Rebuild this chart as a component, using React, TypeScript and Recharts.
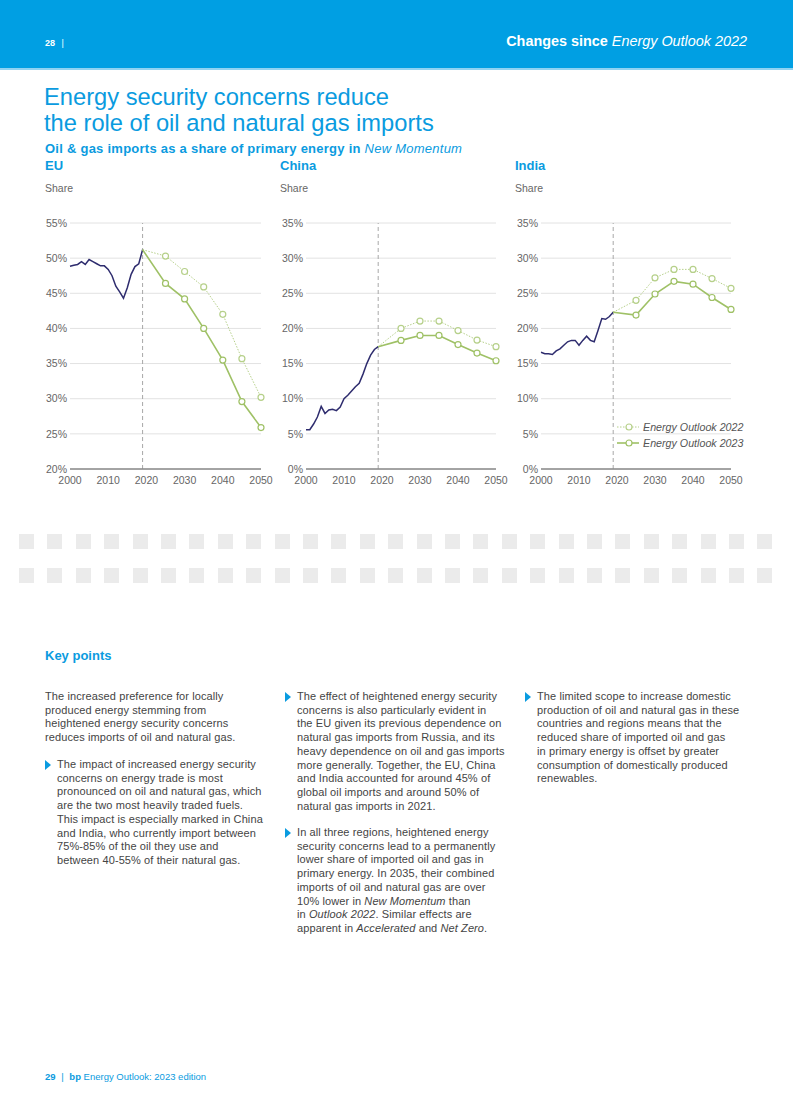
import React from 'react';
import { LineChart, Line, XAxis, YAxis, CartesianGrid, ReferenceLine } from 'recharts';

// ---------- data ----------
const histYears = [2000, 2001, 2002, 2003, 2004, 2005, 2006, 2007, 2008, 2009, 2010, 2011, 2012, 2013, 2014, 2015, 2016, 2017, 2018, 2019];
const projYears = [2019, 2025, 2030, 2035, 2040, 2045, 2050];

const euHist = [48.85, 49.0, 49.1, 49.5, 49.1, 49.8, 49.5, 49.2, 48.9, 48.9, 48.4, 47.5, 46.0, 45.2, 44.3, 45.8, 47.7, 48.8, 49.2, 51.2];
const euEO22 = [51.2, 50.3, 48.1, 45.9, 42.0, 35.7, 30.2];
const euEO23 = [51.2, 46.4, 44.2, 40.0, 35.5, 29.6, 25.9];

const chinaHist = [5.6, 5.6, 6.4, 7.4, 8.9, 7.9, 8.4, 8.5, 8.3, 8.8, 10.0, 10.5, 11.1, 11.7, 12.2, 13.5, 15.0, 16.2, 17.0, 17.4];
const chinaEO22 = [17.4, 20.0, 21.05, 21.05, 19.7, 18.35, 17.4];
const chinaEO23 = [17.4, 18.3, 19.0, 19.0, 17.7, 16.5, 15.4];

const indiaHist = [16.6, 16.4, 16.4, 16.3, 16.8, 17.1, 17.6, 18.1, 18.3, 18.3, 17.6, 18.3, 18.9, 18.3, 18.1, 19.7, 21.4, 21.3, 21.7, 22.3];
const indiaEO22 = [22.3, 24.0, 27.2, 28.4, 28.4, 27.1, 25.7];
const indiaEO23 = [22.3, 21.9, 24.9, 26.7, 26.3, 24.4, 22.7];

const xTicks = [2000, 2010, 2020, 2030, 2040, 2050];
const euYTicks = [20, 25, 30, 35, 40, 45, 50, 55];
const asiaYTicks = [0, 5, 10, 15, 20, 25, 30, 35];
const legendLabels = ['Energy Outlook 2022', 'Energy Outlook 2023'];

type Row = { year: number; hist?: number | null; eo22?: number | null; eo23?: number | null };

function buildData(hist: number[], eo22: number[], eo23: number[]): Row[] {
  const rows: Row[] = histYears.map((y, i) => ({ year: y, hist: hist[i], eo22: null, eo23: null }));
  projYears.forEach((y, i) => {
    const existing = rows.find((r) => r.year === y);
    if (existing) {
      existing.eo22 = eo22[i];
      existing.eo23 = eo23[i];
    } else {
      rows.push({ year: y, hist: null, eo22: eo22[i], eo23: eo23[i] });
    }
  });
  return rows;
}

const euData = buildData(euHist, euEO22, euEO23);
const chinaData = buildData(chinaHist, chinaEO22, chinaEO23);
const indiaData = buildData(indiaHist, indiaEO22, indiaEO23);

// ---------- styles ----------
const BLUE = '#0a9be0';
const NAVY = '#2e2c6e';
const GREEN = '#9fc166';
const GREEN_LIGHT = '#b6d08a';
const FONT = '"Liberation Sans", Arial, Helvetica, sans-serif';

const makeDot = (color: string) => (props: any) => {
  const { cx, cy, payload, index } = props;
  if (cx == null || cy == null || !payload || payload.year === 2019) return <g key={`d${index}`} />;
  return <circle key={`d${index}`} cx={cx} cy={cy} r={3} fill="#fff" stroke={color} strokeWidth={1.2} />;
};

type ChartProps = {
  data: Row[];
  yTicks: number[];
  left: number;
  yWidth: number;
  right: number;
};

function RegionChart({ data, yTicks, left, yWidth, right }: ChartProps) {
  return (
    <div style={{ position: 'absolute', left, top: 200 }}>
      <LineChart width={250} height={300} data={data} margin={{ top: 23, right, bottom: 6, left: 0 }}>
        <CartesianGrid vertical={false} stroke="#e2e2e2" strokeWidth={1} />
        <XAxis
          dataKey="year"
          type="number"
          domain={[2000, 2050]}
          ticks={xTicks}
          tickLine={false}
          axisLine={{ stroke: '#8a8a8a', strokeWidth: 1.5 }}
          tick={{ fontSize: 10.5, fill: '#666', fontFamily: FONT }}
          height={25}
          interval={0}
        />
        <YAxis
          type="number"
          domain={[yTicks[0], yTicks[yTicks.length - 1]]}
          ticks={yTicks}
          tickLine={false}
          axisLine={false}
          tickSize={0}
          tickMargin={3}
          width={yWidth}
          interval={0}
          tickFormatter={(v: number) => `${v}%`}
          tick={{ fontSize: 10.5, fill: '#666', fontFamily: FONT }}
        />
        <ReferenceLine x={2019} stroke="#a8a8a8" strokeDasharray="4 3" strokeWidth={1} />
        <Line type="linear" dataKey="hist" stroke={NAVY} strokeWidth={1.5} dot={false} isAnimationActive={false} />
        <Line
          type="linear"
          dataKey="eo22"
          stroke={GREEN_LIGHT}
          strokeWidth={1}
          strokeDasharray="1.5 1.5"
          dot={makeDot(GREEN_LIGHT)}
          activeDot={false}
          isAnimationActive={false}
        />
        <Line
          type="linear"
          dataKey="eo23"
          stroke={GREEN}
          strokeWidth={1.6}
          dot={makeDot(GREEN)}
          activeDot={false}
          isAnimationActive={false}
        />
      </LineChart>
    </div>
  );
}

const abs = (left: number, top: number, extra: React.CSSProperties = {}): React.CSSProperties => ({
  position: 'absolute',
  left,
  top,
  whiteSpace: 'nowrap',
  ...extra,
});

function Bullet({ left, top }: { left: number; top: number }) {
  return (
    <svg style={{ position: 'absolute', left, top }} width={8} height={12}>
      <polygon points="1,1 7,6 1,11" fill={BLUE} />
    </svg>
  );
}

function TextBlock({ left, top, lines }: { left: number; top: number; lines: React.ReactNode[] }) {
  return (
    <div style={abs(left, top, { fontSize: 11, lineHeight: '13.7px', color: '#444', letterSpacing: 0.1 })}>
      {lines.map((l, i) => (
        <div key={i}>{l}</div>
      ))}
    </div>
  );
}

export default function App() {
  return (
    <div style={{ position: 'absolute', left: 0, top: 0, width: 793, height: 1118, background: '#fff', fontFamily: FONT, overflow: 'hidden' }}>
      {/* header band */}
      <div style={{ position: 'absolute', left: 0, top: 0, width: 793, height: 68, background: '#009fe3' }} />
      <div style={{ position: 'absolute', left: 0, top: 68, width: 793, height: 2, background: '#8fd3f2' }} />
      <div style={abs(45, 37, { color: '#fff', fontSize: 9, fontWeight: 700, lineHeight: '12px' })}>
        28 <span style={{ fontWeight: 400, marginLeft: 4 }}>|</span>
      </div>
      <div style={{ position: 'absolute', right: 46, top: 32, color: '#fff', fontSize: 14.4, lineHeight: '18px', whiteSpace: 'nowrap' }}>
        <span style={{ fontWeight: 700 }}>Changes since </span>
        <span style={{ fontStyle: 'italic' }}>Energy Outlook 2022</span>
      </div>

      {/* title */}
      <div style={abs(44, 84, { color: BLUE, fontSize: 23.7, lineHeight: '26px' })}>
        <div>Energy security concerns reduce</div>
        <div>the role of oil and natural gas imports</div>
      </div>
      <div style={abs(45, 141, { color: BLUE, fontSize: 13, fontWeight: 700, lineHeight: '16px', letterSpacing: 0.25 })}>
        Oil &amp; gas imports as a share of primary energy in <span style={{ fontStyle: 'italic', fontWeight: 400 }}>New Momentum</span>
      </div>

      {/* panel titles */}
      {[
        ['EU', 45],
        ['China', 280],
        ['India', 515],
      ].map(([t, x]) => (
        <React.Fragment key={t as string}>
          <div style={abs(x as number, 158, { color: BLUE, fontSize: 13, fontWeight: 700, lineHeight: '16px' })}>{t}</div>
          <div style={abs(x as number, 182, { color: '#666', fontSize: 10.5, lineHeight: '12px' })}>Share</div>
        </React.Fragment>
      ))}

      <RegionChart data={euData} yTicks={euYTicks} left={30} yWidth={40} right={19} />
      <RegionChart data={chinaData} yTicks={asiaYTicks} left={270} yWidth={36} right={24} />
      <RegionChart data={indiaData} yTicks={asiaYTicks} left={505} yWidth={36} right={24} />

      {/* legend */}
      {legendLabels.map((lab, i) => (
        <div key={lab} style={abs(616, 420 + i * 16, { height: 14, display: 'flex', alignItems: 'center' })}>
          <svg width={25} height={14}>
            <line x1={1} y1={7} x2={23} y2={7} stroke={i === 0 ? GREEN_LIGHT : GREEN} strokeWidth={i === 0 ? 1 : 1.6} strokeDasharray={i === 0 ? '1.5 1.5' : undefined} />
            <circle cx={13} cy={7} r={3} fill="#fff" stroke={i === 0 ? GREEN_LIGHT : GREEN} strokeWidth={1.2} />
          </svg>
          <span style={{ fontSize: 10.7, fontStyle: 'italic', color: '#555', marginLeft: 2 }}>{lab}</span>
        </div>
      ))}

      {/* placeholder squares */}
      {[534, 568].map((y) =>
        Array.from({ length: 27 }).map((_, i) => (
          <div key={`${y}-${i}`} style={{ position: 'absolute', left: 19 + i * 28.4, top: y, width: 15, height: 15, background: '#ebebeb' }} />
        ))
      )}

      {/* key points */}
      <div style={abs(45, 648, { color: BLUE, fontSize: 13, fontWeight: 700, lineHeight: '16px' })}>Key points</div>

      <TextBlock
        left={45}
        top={690}
        lines={[
          'The increased preference for locally',
          'produced energy stemming from',
          'heightened energy security concerns',
          'reduces imports of oil and natural gas.',
        ]}
      />
      <Bullet left={44} top={759} />
      <TextBlock
        left={57}
        top={758}
        lines={[
          'The impact of increased energy security',
          'concerns on energy trade is most',
          'pronounced on oil and natural gas, which',
          'are the two most heavily traded fuels.',
          'This impact is especially marked in China',
          'and India, who currently import between',
          '75%-85% of the oil they use and',
          'between 40-55% of their natural gas.',
        ]}
      />

      <Bullet left={284} top={691} />
      <TextBlock
        left={297}
        top={690}
        lines={[
          'The effect of heightened energy security',
          'concerns is also particularly evident in',
          'the EU given its previous dependence on',
          'natural gas imports from Russia, and its',
          'heavy dependence on oil and gas imports',
          'more generally. Together, the EU, China',
          'and India accounted for around 45% of',
          'global oil imports and around 50% of',
          'natural gas imports in 2021.',
        ]}
      />
      <Bullet left={284} top={827} />
      <TextBlock
        left={297}
        top={826}
        lines={[
          'In all three regions, heightened energy',
          'security concerns lead to a permanently',
          'lower share of imported oil and gas in',
          'primary energy. In 2035, their combined',
          'imports of oil and natural gas are over',
          <>10% lower in <i>New Momentum</i> than</>,
          <>in <i>Outlook 2022</i>. Similar effects are</>,
          <>apparent in <i>Accelerated</i> and <i>Net Zero</i>.</>,
        ]}
      />

      <Bullet left={524} top={691} />
      <TextBlock
        left={537}
        top={690}
        lines={[
          'The limited scope to increase domestic',
          'production of oil and natural gas in these',
          'countries and regions means that the',
          'reduced share of imported oil and gas',
          'in primary energy is offset by greater',
          'consumption of domestically produced',
          'renewables.',
        ]}
      />

      {/* footer */}
      <div style={abs(45, 1071, { color: BLUE, fontSize: 9.5, lineHeight: '12px' })}>
        <b>29</b> <span style={{ margin: '0 3px' }}>|</span> <b>bp</b> Energy Outlook: 2023 edition
      </div>
    </div>
  );
}
